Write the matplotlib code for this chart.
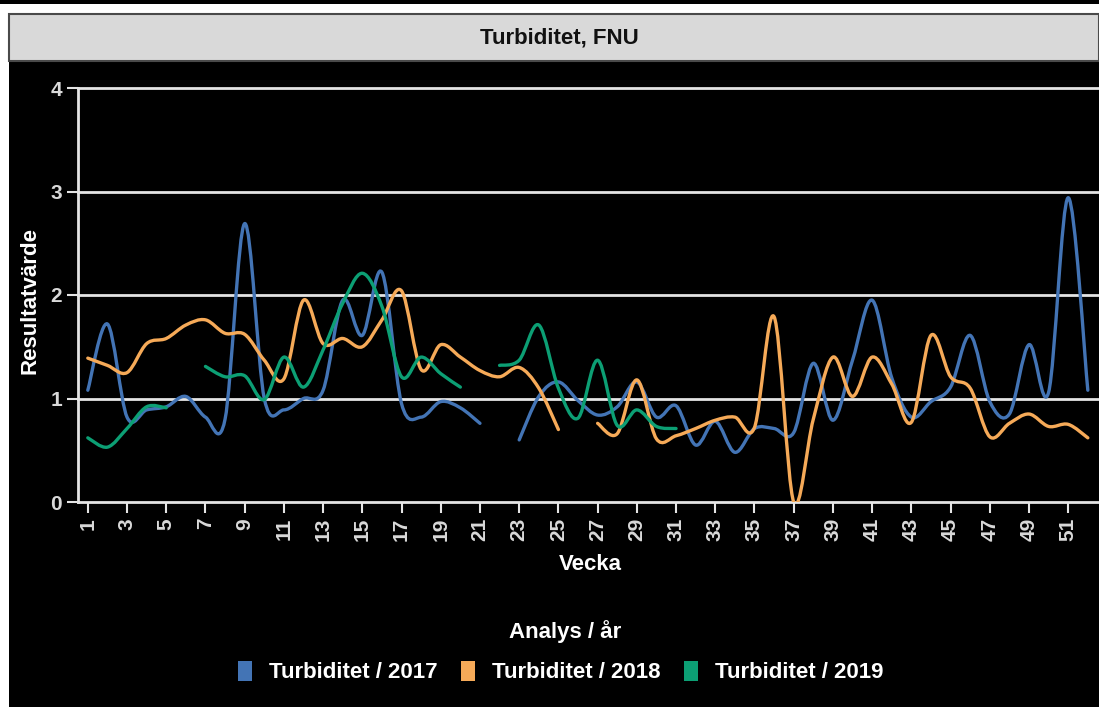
import numpy as np
import matplotlib
matplotlib.use("Agg")
import matplotlib.pyplot as plt
from matplotlib.path import Path
from matplotlib.patches import PathPatch, Rectangle, Patch

nan = np.nan

# Weekly turbidity (FNU) per year, nan = no sample that week
weeks = np.arange(1, 53)
turb_2017 = [1.08, 1.72, 0.82, 0.89, 0.92, 1.02, 0.82, 0.80, 2.69, 1.00,
             0.89, 1.00, 1.08, 1.95, 1.61, 2.22, 0.95, 0.82, 0.97, 0.91,
             0.76, nan, 0.60, 1.02, 1.16, 0.98, 0.84, 0.92, 1.16, 0.82,
             0.93, 0.55, 0.78, 0.48, 0.71, 0.71, 0.67, 1.34, 0.79, 1.37,
             1.95, 1.20, 0.82, 0.97, 1.11, 1.61, 0.97, 0.85, 1.52, 1.06,
             2.94, 1.08]
turb_2018 = [1.39, 1.32, 1.25, 1.53, 1.58, 1.71, 1.76, 1.63, 1.62, 1.37,
             1.19, 1.95, 1.53, 1.58, 1.50, 1.76, 2.04, 1.28, 1.52, 1.40,
             1.27, 1.21, 1.30, 1.10, 0.70, nan, 0.76, 0.66, 1.18, 0.61,
             0.64, 0.71, 0.79, 0.82, 0.72, 1.79, 0.00, 0.80, 1.40, 1.02,
             1.40, 1.14, 0.77, 1.61, 1.21, 1.10, 0.63, 0.76, 0.85, 0.73,
             0.75, 0.62]
turb_2019 = [0.62, 0.53, 0.71, 0.92, 0.91, nan, 1.31, 1.21, 1.22, 0.99,
             1.40, 1.11, 1.47, 1.92, 2.21, 1.89, 1.21, 1.40, 1.24, 1.11,
             nan, 1.32, 1.37, 1.71, 1.10, 0.81, 1.37, 0.74, 0.89, 0.73,
             0.71] + [nan] * 21

series = [("Turbiditet / 2017", turb_2017, "#4374b5"),
          ("Turbiditet / 2018", turb_2018, "#f6aa58"),
          ("Turbiditet / 2019", turb_2019, "#0c9f74")]

W, H = 1099, 707
FONT = "Liberation Sans"


def spline_path(x, y):
    # Catmull-Rom curve through the points, as cubic Bezier segments
    verts = [(x[0], y[0])]
    codes = [Path.MOVETO]
    n = len(x)
    for i in range(n - 1):
        xp, yp = (x[i - 1], y[i - 1]) if i > 0 else (x[i], y[i])
        xn, yn = (x[i + 2], y[i + 2]) if i + 2 < n else (x[i + 1], y[i + 1])
        c1 = (x[i] + (x[i + 1] - xp) / 6, y[i] + (y[i + 1] - yp) / 6)
        c2 = (x[i + 1] - (xn - x[i]) / 6, y[i + 1] - (yn - y[i]) / 6)
        verts += [c1, c2, (x[i + 1], y[i + 1])]
        codes += [Path.CURVE4] * 3
    return Path(verts, codes)


def runs(x, y):
    y = np.asarray(y, dtype=float)
    ok = ~np.isnan(y)
    start = None
    for i in range(len(y) + 1):
        if i < len(y) and ok[i]:
            if start is None:
                start = i
        elif start is not None:
            yield x[start:i], y[start:i]
            start = None


fig = plt.figure(figsize=(W / 100, H / 100), dpi=100, facecolor="black")

# frame: white strips and grey title bar
fig.patches.append(Rectangle((0, 1 - 13 / H), 1, 9 / H, transform=fig.transFigure,
                             facecolor="white", edgecolor="none"))
fig.patches.append(Rectangle((0, 0), 9 / W, 1 - 4 / H, transform=fig.transFigure,
                             facecolor="white", edgecolor="none"))
fig.patches.append(Rectangle((9 / W, 1 - 61 / H), 1 - 9 / W, 47 / H, transform=fig.transFigure,
                             facecolor="#d9d9d9", edgecolor="#4a4a4a", lw=1.5))
fig.text(559 / W, 1 - 38 / H, "Turbiditet, FNU", ha="center", va="center",
         fontsize=16, fontweight="bold", color="#111111", family=FONT)

ax = fig.add_axes([78 / W, 1 - 502 / H, 1 - 78 / W, 414 / H])
ax.set_facecolor("black")
ax.set_xlim(0.5, 52.57)
ax.set_ylim(0, 4)

for v in [1, 2, 3, 4]:
    ax.axhline(v, color="#e4e4e4", lw=2, clip_on=False, zorder=1)

for label, vals, color in series:
    for xs, ys in runs(weeks, vals):
        ax.add_patch(PathPatch(spline_path(xs, ys), facecolor="none", edgecolor=color,
                               lw=2.4, zorder=3, capstyle="round", joinstyle="round"))

for s in ["top", "right"]:
    ax.spines[s].set_visible(False)
for s in ["left", "bottom"]:
    ax.spines[s].set_color("#e4e4e4")
    ax.spines[s].set_linewidth(2)
    ax.spines[s].set_zorder(2)

ax.set_yticks([0, 1, 2, 3, 4])
ax.set_xticks(weeks[::2])
ax.set_xticklabels([str(w) for w in weeks[::2]], rotation=90)
ax.tick_params(colors="#e4e4e4", length=8, width=1.5, labelsize=15)
for t in ax.get_xticklabels() + ax.get_yticklabels():
    t.set_fontweight("bold")
    t.set_family(FONT)
    t.set_color("#d9d9d9")

fig.text(30 / W, 1 - 300 / H, "Resultatvärde", rotation=90, ha="center", va="center",
         fontsize=16, fontweight="bold", color="white", family=FONT)
fig.text(590 / W, 1 - 565 / H, "Vecka", ha="center", va="center",
         fontsize=16, fontweight="bold", color="white", family=FONT)
fig.text(565 / W, 1 - 632 / H, "Analys / år", ha="center", va="center",
         fontsize=16, fontweight="bold", color="white", family=FONT)

handles = [Patch(facecolor=c, edgecolor="none") for _, _, c in series]
leg = fig.legend(handles, [s[0] for s in series], loc="center",
                 bbox_to_anchor=(561 / W, 1 - 672 / H), ncol=3, frameon=False,
                 prop={"family": FONT, "weight": "bold", "size": 16},
                 handlelength=0.6, handleheight=1.0, handletextpad=0.8,
                 columnspacing=1.05)
for t in leg.get_texts():
    t.set_color("white")

fig.savefig("out.png", dpi=100, facecolor="black")
